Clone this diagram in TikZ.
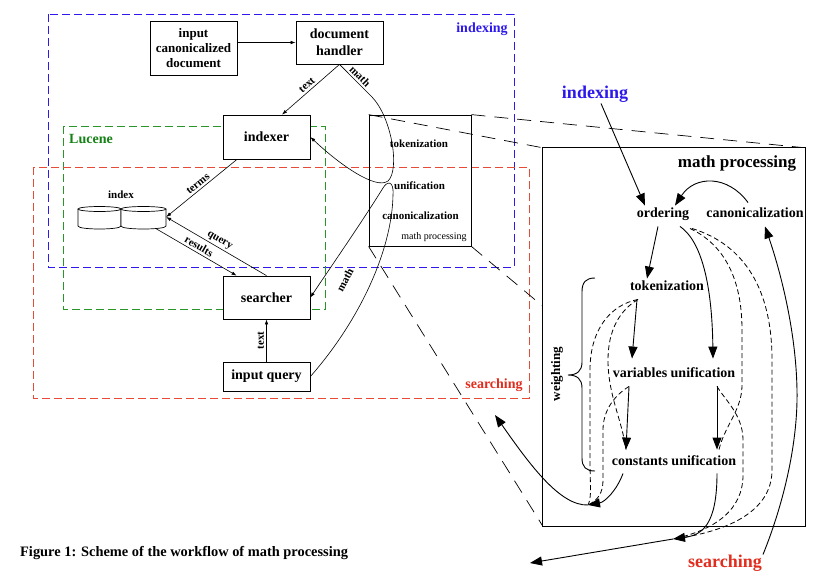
\documentclass[tikz,border=0pt]{standalone}
\usepackage{fontspec}
\setmainfont{Liberation Serif}
\usetikzlibrary{arrows.meta,calc}
\definecolor{ixblue}{RGB}{45,25,235}
\definecolor{lgreen}{RGB}{40,150,40}
\definecolor{lgreentext}{RGB}{20,130,20}
\definecolor{sred}{RGB}{230,75,55}
\definecolor{sredtext}{RGB}{225,45,30}
\begin{document}
\begin{tikzpicture}[x=1pt,y=-1pt,
  box/.style={draw, fill=white, line width=0.8pt, minimum width=87pt, inner sep=0pt, align=center, font=\fontsize{14}{17}\selectfont\bfseries},
  sarr/.style={-{Latex[length=5pt,width=3.5pt]}, line width=0.6pt},
  smalllbl/.style={font=\fontsize{11}{12}\selectfont\bfseries, inner sep=1pt},
  edgelbl/.style={font=\fontsize{11}{12}\selectfont\bfseries, inner sep=2.2pt},
  lbl/.style={font=\fontsize{14}{16}\selectfont\bfseries, inner sep=1pt, text height=9.5pt, text depth=3pt},
  biglbl/.style={font=\fontsize{18}{20}\selectfont\bfseries, inner sep=1pt, text height=12.5pt, text depth=4pt},
  region/.style={dash pattern=on 8pt off 4pt, line width=1pt},
  proj/.style={dash pattern=on 14pt off 9pt, line width=0.7pt},
  barr/.style={-{Triangle[length=12pt,width=9pt]}, line width=0.9pt},
  dsh/.style={dash pattern=on 5pt off 3pt, line width=0.8pt},
]
\useasboundingbox (0,0) rectangle (814,581);
\fill[white] (0,0) rectangle (814,581);

% regions
\draw[region, ixblue] (48,14) rectangle (514,267);
\draw[region, lgreen] (63,126) rectangle (325,309);
\draw[region, sred] (33,167) rectangle (529,398);
\node[font=\fontsize{14}{16}\selectfont\bfseries, text=ixblue] (lblix) at (482,29) {indexing};
\node[font=\fontsize{14}{16}\selectfont\bfseries, text=lgreentext] (lbllu) at (91,139) {Lucene};
\node[font=\fontsize{14}{16}\selectfont\bfseries, text=sredtext] (lblse) at (494,385) {searching};

% small math processing box
\node[draw, line width=0.8pt, minimum width=102pt, minimum height=131pt, inner sep=0pt] (mps) at (420,180.5) {};
\node[smalllbl] (mtok) at (419,144) {tokenization};
\node[smalllbl] (muni) at (419.5,186) {unification};
\node[smalllbl] (mcan) at (420.5,216) {canonicalization};
\node[font=\fontsize{10}{11}\selectfont, inner sep=1pt] (mlab) at (434,237) {math processing};

% big box and projection lines
\node[minimum width=262pt, minimum height=378pt, inner sep=0pt] (mpb) at (674,337) {};
\draw[proj] (mps.north west) -- (mpb.north west);
\draw[proj] (mps.north east) -- (mpb.north east);
\draw[proj] (mps.south west) -- (mpb.south west);
\draw[proj] (mps.south east) -- (mpb.south east);
\draw[fill=white, line width=0.9pt] (mpb.north west) rectangle (mpb.south east);

% left boxes
\node[box, minimum height=54pt, font=\fontsize{13}{15}\selectfont\bfseries] (icd) at (193.5,48) {input\\canonicalized\\document};
\node[box, minimum height=43pt] (dh) at (339.5,42.5) {document\\handler};
\node[box, minimum height=44pt] (idx) at (266.5,137) {indexer};
\node[box, minimum height=43pt] (srch) at (266.5,297.5) {searcher};
\node[box, minimum height=29pt] (iq) at (266.5,376.5) {input query};

% index cylinders
\foreach \xa/\xb in {78/121,121/166}{
  \draw[line width=0.7pt, fill=white] (\xa,209) -- (\xa,226) .. controls (\xa,230) and (\xb,230) .. (\xb,226) -- (\xb,209);
  \draw[line width=0.7pt] ({(\xa+\xb)/2},209) ellipse [x radius={(\xb-\xa)/2}, y radius=2.5];
}
\node[minimum width=88pt, minimum height=22pt, inner sep=0pt] (ixd) at (122,217) {};
\node[smalllbl] (ixl) at (121,195) {index};

% left connectors
\draw[sarr] (icd.east |- dh.west) -- (dh.west);
\draw[sarr] (dh.south) -- node[sloped, above, edgelbl] {text} ($(idx.north)+(15.5,0)$);
\draw[sarr] (dh.south) -- node[sloped, above, edgelbl] {math} (372,97)
   .. controls (392,118) and (400,170) .. (388,181)
   .. controls (376,190) and (340,165) .. (idx.east);
\draw[sarr] ($(idx.south)+(-29.5,0)$) -- node[sloped, above, edgelbl] {terms} (ixd.east);
\draw[sarr] (srch.north) -- node[sloped, above, edgelbl] {query} (ixd.east);
\draw[sarr] ($(ixd.south east)+(-11,0)$) -- node[sloped, above, edgelbl] {results} ($(srch.north west)+(14,0)$);
\draw[sarr] (iq.north) -- node[sloped, above, edgelbl] {text} (srch.south);
\draw[sarr] (iq.east) .. controls (360,320) and (392,250) .. (393,195)
   .. controls (394,180) and (387,181) .. (383,188)
   .. controls (360,225) and (330,268) .. (srch.east);
\node[smalllbl, rotate=62] (mlbl) at (345,280) {math};

% right panel nodes
\node[biglbl, text=ixblue] (ix2) at (595,94) {indexing};
\node[font=\fontsize{17}{19}\selectfont\bfseries, inner sep=1pt] (mpt) at (737,163) {math processing};
\node[lbl] (ord) at (663,214) {ordering};
\node[lbl] (can) at (755,214) {canonicalization};
\node[lbl] (tok) at (667,287) {tokenization};
\node[lbl] (var) at (674,374) {variables unification};
\node[lbl] (cst) at (674,462) {constants unification};
\node[font=\fontsize{13}{15}\selectfont\bfseries, inner sep=1pt, rotate=90] (wgt) at (557,374) {weighting};
\node[biglbl, text=sredtext] (srch2) at (725,563) {searching};
\coordinate (outL) at (588,505);
\coordinate (outB) at (673,539);
\coordinate (endL) at (495,415);
\coordinate (endB) at (530,563);

% brace
\draw[line width=0.9pt] (595,278) .. controls (586,278) and (582,282) .. (582,292) -- (582,362)
  .. controls (582,371) and (577,375) .. (568,375) .. controls (577,375) and (582,379) .. (582,388)
  -- (582,458) .. controls (582,467) and (586,471) .. (595,471);

% right solid arrows
\draw[barr] ($(ix2.south)+(6,0)$) -- ($(ord.north)+(-18,-1)$);
\draw[barr] ($(can.north)+(-7,-4)$) .. controls (728,175) and (695,175) .. ($(ord.north)+(12,-1)$);
\draw[barr] ($(ord.south)+(-5,5)$) -- ($(tok.north)+(-20,-1)$);
\draw[barr] ($(ord.south)+(17,5)$) .. controls (700,240) and (712,280) .. ($(var.north)+(39,-8)$);
\draw[barr] ($(tok.south)+(-30,5)$) -- ($(var.north)+(-42,-8)$);
\draw[barr] ($(var.south)+(-45,5)$) -- ($(cst.north)+(-48,-5)$);
\draw[barr] ($(var.south)+(43,5)$) -- ($(cst.north)+(43,-5)$);
\draw[barr] ($(cst.south)+(-51,4)$) .. controls (617,490) and (605,502) .. (outL);
\draw[barr] ($(cst.south)+(43,4)$) .. controls (717,525) and (702,535) .. (outB);
\draw[barr] (outL) .. controls (560,506) and (530,465) .. (endL);
\draw[barr] (outB) -- (endB);
\draw[barr] ($(srch2.north)+(38,1)$) .. controls (785,500) and (798,440) .. (797,390)
   .. controls (796,330) and (780,270) .. ($(can.south)+(10,5)$);

% right dashed paths
\draw[dsh] ($(ord.south)+(27,7)$) .. controls (725,245) and (742,280) .. (742,330) -- (742,385)
   .. controls (742,410) and (725,425) .. ($(cst.north)+(45,-5)$);
\draw[dsh] ($(ord.south)+(29,7)$) .. controls (745,245) and (772,290) .. (772,360) -- (772,470)
   .. controls (772,505) and (740,530) .. (outB);
\draw[dsh] ($(var.south)+(43,5)$) .. controls (725,400) and (743,415) .. (743,440) -- (743,475)
   .. controls (743,510) and (715,530) .. (outB);
\draw[dsh] ($(tok.south)+(-29,5)$) .. controls (610,305) and (590,330) .. (590,370) -- (590,460)
   .. controls (590,485) and (592,497) .. (outL);
\draw[dsh] ($(tok.south)+(-29,5)$) .. controls (620,310) and (608,330) .. (608,360)
   .. controls (608,395) and (622,420) .. ($(cst.north)+(-48,-5)$);
\draw[dsh] ($(var.south)+(-45,5)$) .. controls (615,395) and (603,410) .. (603,430) -- (603,480)
   .. controls (603,493) and (598,500) .. (outL);

% caption
\node[anchor=base west, font=\fontsize{14.4}{16}\selectfont\bfseries, inner sep=0pt] (cap) at (20,556) {Figure 1: Scheme of the workflow of math processing};
\end{tikzpicture}
\end{document}
